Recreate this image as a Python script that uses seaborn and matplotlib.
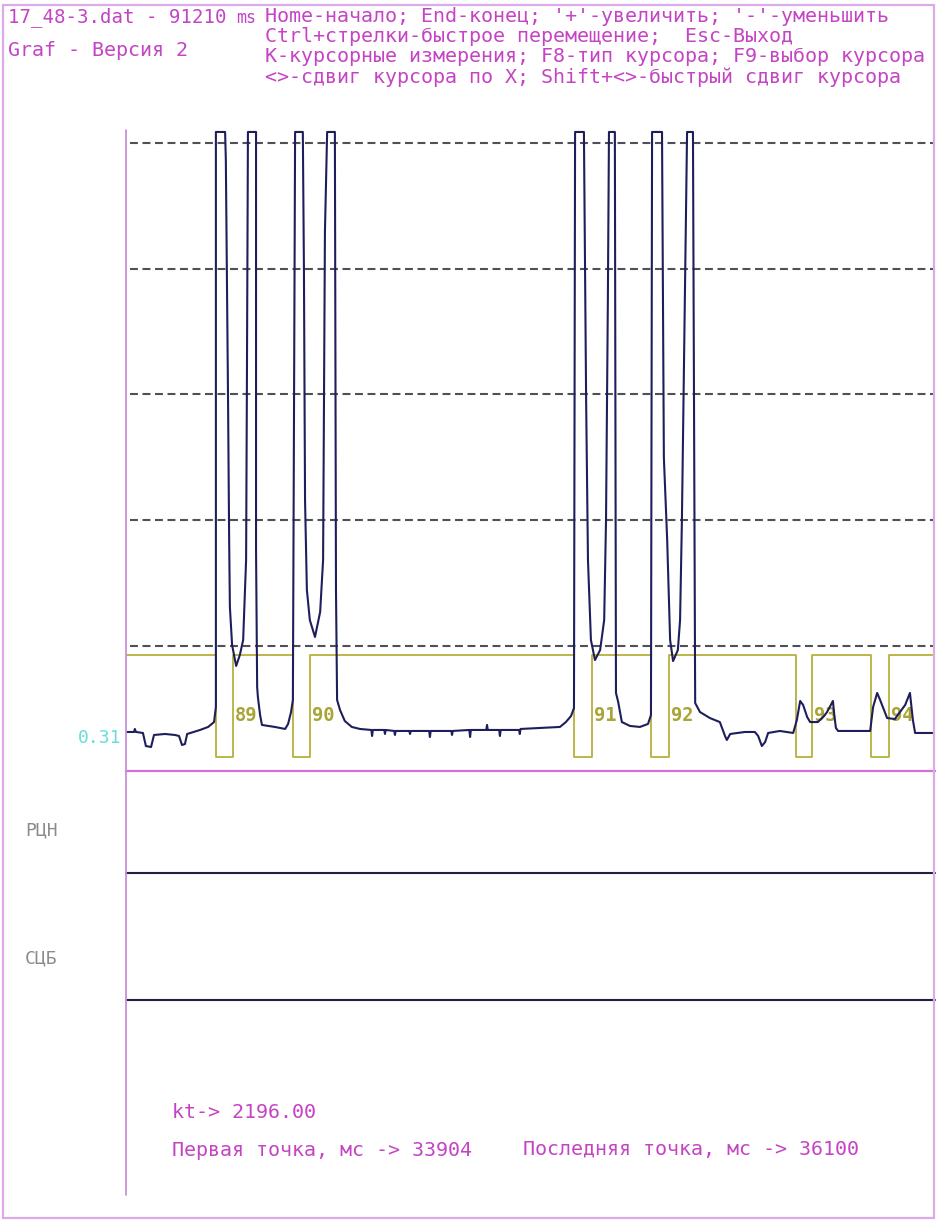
import matplotlib
matplotlib.use("Agg")
import matplotlib.pyplot as plt
import seaborn as sns
import pandas as pd
from matplotlib.lines import Line2D
from matplotlib.patches import Rectangle

# ---------------- data ----------------
t_first, t_last = 33904, 36100
kt = 2196.00
baseline_label = "0.31"

sig_t = [33904, 33926, 33928, 33931, 33950, 33958, 33972, 33980, 34010, 34037, 34048, 34056, 34064, 34070,
         34105, 34127, 34143, 34148, 34148, 34173, 34175, 34181, 34184, 34186, 34192, 34203, 34213, 34222,
         34230, 34232, 34235, 34257, 34257, 34260, 34262, 34268, 34273, 34308, 34336, 34344, 34352, 34357,
         34363, 34384, 34387, 34390, 34395, 34403, 34417, 34431, 34439, 34444, 34450, 34471, 34474, 34477,
         34485, 34498, 34517, 34539,
         34570, 34572, 34574, 34605, 34607, 34609, 34632, 34634, 34636, 34673, 34675, 34677, 34727, 34729,
         34731, 34787, 34789, 34791, 34836, 34838, 34840, 34882, 34884, 34886, 34917, 34919, 34921, 34971,
         34973, 34975, 35028, 35082, 35098, 35112, 35120, 35123, 35147, 35153, 35158, 35166, 35177, 35191,
         35202, 35207, 35212, 35215, 35231, 35234, 35240, 35250, 35272, 35299, 35321, 35329, 35332, 35359,
         35364, 35373, 35381, 35389, 35402, 35408, 35413, 35421, 35427, 35443, 35449, 35462, 35489, 35516,
         35522, 35530, 35535, 35544, 35584, 35611, 35620, 35630, 35639, 35647, 35679, 35715, 35725, 35734,
         35742, 35753, 35761, 35782, 35799, 35807, 35823, 35826, 35831, 35837, 35896, 35924, 35932, 35943,
         35951, 35970, 35991, 36019, 36032, 36040, 36046, 36100]
sig_v = [0.311, 0.311, 0.335, 0.311, 0.303, 0.199, 0.191, 0.287, 0.295, 0.287, 0.279, 0.207, 0.215, 0.295,
         0.327, 0.351, 0.390, 0.510, 5.092, 5.092, 4.869, 2.956, 1.841, 1.307, 1.004, 0.837, 0.924, 1.044,
         1.681, 2.956, 5.092, 5.092, 1.761, 0.669, 0.590, 0.446, 0.367, 0.351, 0.335, 0.375, 0.470, 0.566,
         5.092, 5.092, 3.992, 2.159, 1.442, 1.203, 1.068, 1.267, 1.681, 4.295, 5.092, 5.092, 1.442, 0.566,
         0.486, 0.398, 0.351, 0.335,
         0.327, 0.279, 0.327, 0.327, 0.295, 0.327, 0.319, 0.287, 0.319, 0.319, 0.295, 0.319, 0.319, 0.271,
         0.319, 0.319, 0.287, 0.319, 0.327, 0.271, 0.327, 0.327, 0.367, 0.327, 0.327, 0.279, 0.327, 0.327,
         0.295, 0.335, 0.343, 0.351, 0.390, 0.438, 0.502, 5.092, 5.092, 2.956, 1.681, 1.044, 0.884, 0.964,
         1.203, 2.000, 3.753, 5.092, 5.092, 0.622, 0.550, 0.390, 0.359, 0.351, 0.375, 0.446, 5.092, 5.092,
         2.500, 1.841, 1.044, 0.876, 0.964, 1.203, 2.000, 3.753, 5.092, 5.092, 0.542, 0.470, 0.422, 0.390,
         0.343, 0.279, 0.247, 0.295, 0.311, 0.311, 0.279, 0.199, 0.231, 0.303, 0.319, 0.303, 0.406, 0.558,
         0.526, 0.430, 0.390, 0.390, 0.438, 0.470, 0.558, 0.462, 0.343, 0.319, 0.319, 0.319, 0.510, 0.622,
         0.566, 0.422, 0.414, 0.526, 0.622, 0.406, 0.303, 0.303]

# yellow square-wave channel (edges, level after edge)
sq_t = [33904, 34148, 34194, 34357, 34403, 35120, 35169, 35329, 35378, 35723, 35766, 35926, 35975, 36100]
sq_v = [0.924, 0.112, 0.924, 0.112, 0.924, 0.112, 0.924, 0.112, 0.924, 0.112, 0.924, 0.112, 0.924, 0.924]

pulse_ids = [89, 90, 91, 92, 93, 94]
pulse_label_t = [34194, 34403, 35169, 35378, 35766, 35975]

grid_levels = [1, 2, 3, 4, 5]

rcn_t = [33904, 36100]
rcn_v = [0, 0]
scb_t = [33904, 36100]
scb_v = [0, 0]

header_lines = [
    "Home-начало; End-конец; '+'-увеличить; '-'-уменьшить",
    "Ctrl+стрелки-быстрое перемещение;  Esc-Выход",
    "K-курсорные измерения; F8-тип курсора; F9-выбор курсора",
    "<>-сдвиг курсора по X; Shift+<>-быстрый сдвиг курсора",
]
file_label = "17_48-3.dat - 91210"
ms_label = "ms"
version_label = "Graf - Версия 2"
channel_labels = ["РЦН", "СЦБ"]

# ---------------- styling ----------------
sns.set_style("white")
plt.rcParams["font.family"] = ["DejaVu Sans Mono", "DejaVu Sans"]

W, H = 937, 1223
fig = plt.figure(figsize=(W / 100, H / 100), dpi=100)
fig.patch.set_facecolor("white")

def fx(x):
    return x / W

def fy(y):
    return 1 - y / H

MAG = "#c444c4"
NAVY = "#1e1e5c"
YEL = "#b8b03c"

X0, X1 = 126, 935
Y_TOP, Y_ZERO = 130, 771
PX_PER_V = 125.5

ax = fig.add_axes([fx(X0), fy(Y_ZERO), (X1 - X0) / W, (Y_ZERO - Y_TOP) / H])
ax.set_xlim(t_first, t_last)
ax.set_ylim(0, (Y_ZERO - Y_TOP) / PX_PER_V)
ax.set_facecolor("none")
for s in ["top", "right", "left"]:
    ax.spines[s].set_visible(False)
ax.spines["bottom"].set_color("#d070d8")
ax.spines["bottom"].set_linewidth(1.6)
ax.set_xticks([])
ax.set_yticks([])

for lv in grid_levels:
    ax.axhline(lv, xmin=4 / (X1 - X0), xmax=1, color="#505058", lw=1.5,
               linestyle=(0, (3.8, 2.2)), zorder=1)

for n, t in zip(pulse_ids, pulse_label_t):
    ax.text(t + 5, 0.445, str(n), color="#a8a436", fontsize=13.5, ha="left", va="center",
            fontweight="bold", zorder=2)

df_sq = pd.DataFrame({"t": sq_t, "v": sq_v})
sns.lineplot(data=df_sq, x="t", y="v", ax=ax, color=YEL, lw=1.3, sort=False, estimator=None,
             drawstyle="steps-post", zorder=3)

df_sig = pd.DataFrame({"t": sig_t, "v": sig_v})
sns.lineplot(data=df_sig, x="t", y="v", ax=ax, color=NAVY, lw=1.5, sort=False, estimator=None,
             zorder=4)
ax.set_xlabel("")
ax.set_ylabel("")

# digital channels
for (ybot, ytop, tt, vv) in [(873, Y_ZERO, rcn_t, rcn_v), (1000, 873, scb_t, scb_v)]:
    a = fig.add_axes([fx(X0), fy(ybot), (X1 - X0) / W, (ybot - ytop) / H])
    a.set_xlim(t_first, t_last)
    a.set_ylim(0, 1)
    a.axis("off")
    a.set_facecolor("none")
    sns.lineplot(x=tt, y=vv, ax=a, color="#202040", lw=1.5, sort=False, estimator=None)
    for ln in a.lines:
        ln.set_clip_on(False)

# frame lines
fig.add_artist(Line2D([fx(X0), fx(X0)], [fy(Y_TOP), fy(1195)], color="#c890d8", lw=1.3))
fig.add_artist(Rectangle((fx(3), fy(1218)), fx(931), (1218 - 5) / H, fill=False,
                         edgecolor="#dcaae8", lw=1.6))

# texts
fs = 14.4
fig.text(fx(8), fy(17), file_label, color=MAG, fontsize=13.7, ha="left", va="center")
fig.text(fx(236), fy(18), ms_label, color=MAG, fontsize=12, ha="left", va="center")
for i, line in enumerate(header_lines):
    fig.text(fx(265), fy(17 + i * 20), line, color=MAG, fontsize=fs, ha="left", va="center")
fig.text(fx(8), fy(50), version_label, color=MAG, fontsize=fs, ha="left", va="center")

fig.text(fx(121), fy(738), baseline_label, color="#66dcdc", fontsize=13, ha="right", va="center")
fig.text(fx(25), fy(830), channel_labels[0], color="#8c8c8c", fontsize=13, ha="left", va="center")
fig.text(fx(25), fy(958), channel_labels[1], color="#8c8c8c", fontsize=13, ha="left", va="center")

fig.text(fx(172), fy(1112), f"kt-> {kt:.2f}", color=MAG, fontsize=fs, ha="left", va="center")
fig.text(fx(172), fy(1150), f"Первая точка, мс -> {t_first}", color=MAG, fontsize=fs,
         ha="left", va="center")
fig.text(fx(523), fy(1150), f"Последняя точка, мс -> {t_last}", color=MAG, fontsize=fs,
         ha="left", va="center")

fig.savefig("out.png", dpi=100, facecolor="white")
